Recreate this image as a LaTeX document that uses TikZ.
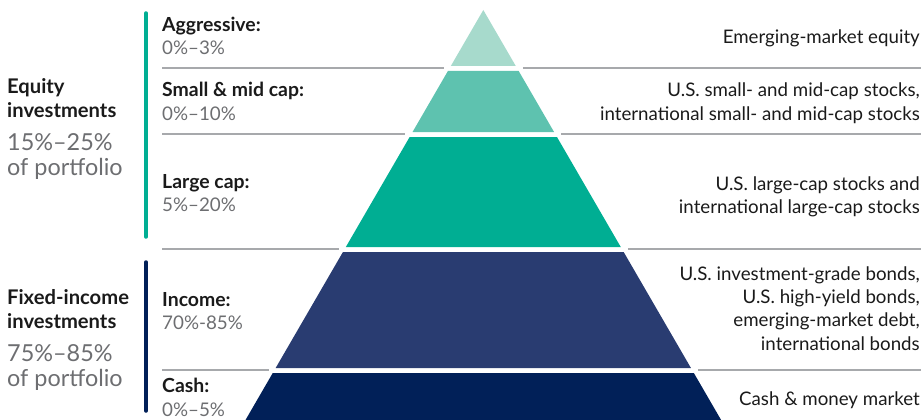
\documentclass[tikz,border=0pt]{standalone}
\usepackage{fontspec}
\setmainfont{Lato}
\usetikzlibrary{calc}
\definecolor{tierA}{HTML}{A7DACC}
\definecolor{tierB}{HTML}{5EC2AF}
\definecolor{tierC}{HTML}{00AE93}
\definecolor{tierD}{HTML}{293C71}
\definecolor{tierE}{HTML}{012058}
\definecolor{txtgrey}{HTML}{6D6E71}
\definecolor{txtblack}{HTML}{1A1A1A}
\definecolor{rulegrey}{HTML}{A7A9AC}
% one band of the pyramid, between two heights (apex at 483.3,10)
\def\tier[#1](#2:#3){\fill[#1] ({483.3-0.58*(#2-10)}, #2) -- ({483.3+0.58*(#2-10)}, #2) -- ({483.3+0.58*(#3-10)}, #3) -- ({483.3-0.58*(#3-10)}, #3) -- cycle;}
% grey separator, broken where it meets the pyramid
\def\sepline(#1){\draw[sep] (162, #1) -- ({483.3-0.58*(#1-10)-6}, #1); \draw[sep] ({483.3+0.58*(#1-10)+6}, #1) -- (921, #1);}

\begin{document}
\begin{tikzpicture}[x=1pt, y=-1pt,
    sep/.style={line width=1.1pt, color=rulegrey},
    lbl/.style={inner sep=0, anchor=base west, color=txtblack, font=\fontsize{19.4}{23.3}\selectfont\bfseries},
    pct/.style={inner sep=0, anchor=base west, color=txtgrey, font=\fontsize{18.8}{23.3}\selectfont},
    grp/.style={inner sep=0, anchor=base west, align=left, color=txtblack, font=\fontsize{20.2}{24}\selectfont\bfseries},
    grppct/.style={inner sep=0, anchor=base west, align=left, color=txtgrey, font=\fontsize{23.4}{25}\selectfont},
    asset/.style={inner sep=0, anchor=base east, align=right, color=txtblack, font=\fontsize{18.7}{23.3}\selectfont}]
    %%%%% START %%%%%
    \useasboundingbox (0, 0) rectangle (921, 420);
    
    \tier[tierA](10:66)
    \tier[tierB](71:132)
    \tier[tierC](137:247)
    \tier[tierD](252:368)
    \tier[tierE](373:420)
    
    \sepline(68)
    \sepline(134)
    \sepline(249)
    \sepline(370)
    
    \draw[line width=3.5pt, line cap=round, color=tierC] (146, 13) -- (146, 237);
    \draw[line width=3.5pt, line cap=round, color=tierE] (146, 262) -- (146, 411);
    
    % multi-line nodes sit on the baseline of their last line
    \node[grp] (eqty) at (7, 117) {Equity\\investments};
    \node[grppct] (eqtypct) at (7, 175) {15\%–25\%\\of portfolio};
    \node[grp] (fixd) at (7, 328) {Fixed-income\\investments};
    \node[grppct] (fixdpct) at (7, 386) {75\%–85\%\\of portfolio};
    
    \node[lbl] (aggr) at (162, 31.7) {Aggressive:};
    \node[pct] (aggrpct) at (162, 55) {0\%–3\%};
    \node[lbl] (smid) at (162, 96.7) {Small \& mid cap:};
    \node[pct] (smidpct) at (162, 120) {0\%–10\%};
    \node[lbl] (lrge) at (162, 188) {Large cap:};
    \node[pct] (lrgepct) at (162, 211.3) {5\%–20\%};
    \node[lbl] (incm) at (162, 306.7) {Income:};
    \node[pct] (incmpct) at (162, 329) {70\%-85\%};
    \node[lbl] (cash) at (162, 392.7) {Cash:};
    \node[pct] (cashpct) at (162, 416) {0\%–5\%};
    
    \node[asset] (aggrtxt) at (920, 43.3) {Emerging-market equity};
    \node[asset] (smidtxt) at (920, 120) {U.S. small- and mid-cap stocks,\\international small- and mid-cap stocks};
    \node[asset] (lrgetxt) at (920, 213.3) {U.S. large-cap stocks and\\international large-cap stocks};
    \node[asset] (incmtxt) at (920, 350) {U.S. investment-grade bonds,\\U.S. high-yield bonds,\\emerging-market debt,\\international bonds};
    \node[asset] (cashtxt) at (920, 405) {Cash \& money market};
    
    %%%%% END %%%%%
\end{tikzpicture}
\end{document}
